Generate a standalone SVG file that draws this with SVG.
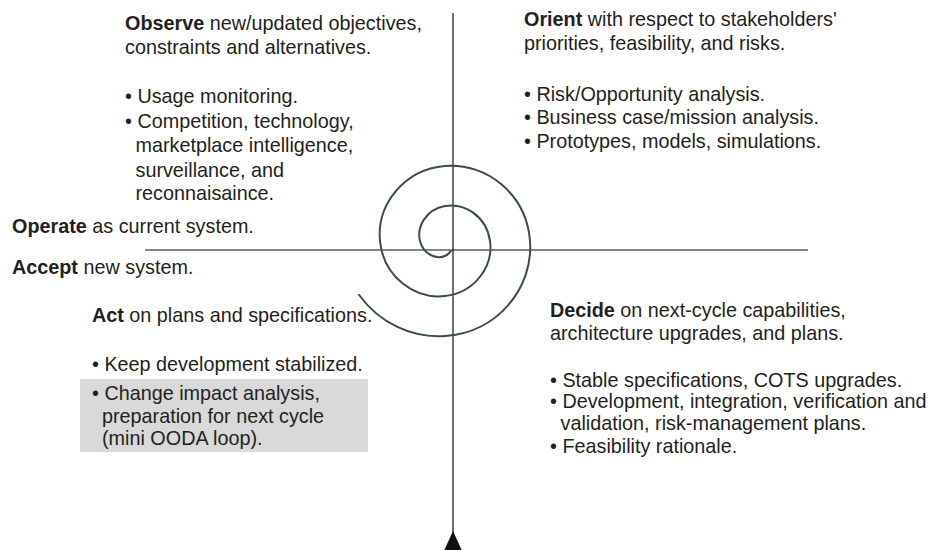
<svg xmlns="http://www.w3.org/2000/svg" width="945" height="550" viewBox="0 0 945 550">
  <style>
    text { font-family: "Liberation Sans", Arial, sans-serif; font-size: 19.8px; fill: #231f20; }
    .b { font-weight: bold; }
    .axis-h { stroke: #5f5f5f; stroke-width: 1.6; fill: none; }
    .axis-v { stroke: #111; stroke-width: 1.2; fill: none; }
    .spiral { stroke: #3b4b56; stroke-width: 2; fill: none; stroke-linecap: round; }
    .shade { fill: #d9d9d9; }
  </style>
  <rect width="945" height="550" fill="#ffffff"/>

  <g id="connectors">
    <line class="axis-h" x1="145" y1="250" x2="808" y2="250"/>
    <line class="axis-v" x1="453" y1="13" x2="453" y2="534"/>
    <polygon points="453,531 443,553 463,553" fill="#111"/>
  </g>

  <g id="spiral">
    <path class="spiral" d="M450.83,251.10 C449.62,253.09 447.63,254.88 445,256 C436.72,259.52 423.52,254.81 420,241 C416.48,227.19 425.67,209.52 445,206 C464.33,202.48 486.48,216.15 490,241 C493.52,265.850 475.38,292.48 445,296 C414.62,299.52 383.52,276.90 380,241 C376.48,205.10 403.58,169.52 445,166 C486.42,162.48 526.48,194.05 530,241 C533.52,287.95 497.47,332.48 445,336 C412.24,338.20 379.37,323.25 358.97,294.75"/>
  </g>

  <g id="observe">
    <text x="125" y="30"><tspan class="b">Observe</tspan> new/updated objectives,</text>
    <text x="125" y="54">constraints and alternatives.</text>
    <text x="125" y="103">• Usage monitoring.</text>
    <text x="125" y="127.5">• Competition, technology,</text>
    <text x="135.5" y="152">marketplace intelligence,</text>
    <text x="135.5" y="176.5">surveillance, and</text>
    <text x="135.5" y="200">reconnaisaince.</text>
  </g>

  <g id="orient">
    <text x="524" y="26"><tspan class="b">Orient</tspan> with respect to stakeholders'</text>
    <text x="524" y="49.5">priorities, feasibility, and risks.</text>
    <text x="524" y="100.5">• Risk/Opportunity analysis.</text>
    <text x="524" y="124">• Business case/mission analysis.</text>
    <text x="524" y="147.5">• Prototypes, models, simulations.</text>
  </g>

  <g id="operate">
    <text x="12" y="233"><tspan class="b">Operate</tspan> as current system.</text>
  </g>

  <g id="accept">
    <text x="12" y="274"><tspan class="b">Accept</tspan> new system.</text>
  </g>

  <g id="act">
    <rect class="shade" x="80" y="379" width="288" height="73"/>
    <text x="92" y="321.5"><tspan class="b">Act</tspan> on plans and specifications.</text>
    <text x="92" y="371">• Keep development stabilized.</text>
    <text x="92" y="400">• Change impact analysis,</text>
    <text x="102" y="422.5">preparation for next cycle</text>
    <text x="102" y="445">(mini OODA loop).</text>
  </g>

  <g id="decide">
    <text x="550" y="317"><tspan class="b">Decide</tspan> on next-cycle capabilities,</text>
    <text x="550" y="340">architecture upgrades, and plans.</text>
    <text x="550" y="387">• Stable specifications, COTS upgrades.</text>
    <text x="550" y="408">• Development, integration, verification and</text>
    <text x="560.5" y="430">validation, risk-management plans.</text>
    <text x="550" y="452.5">• Feasibility rationale.</text>
  </g>
</svg>
